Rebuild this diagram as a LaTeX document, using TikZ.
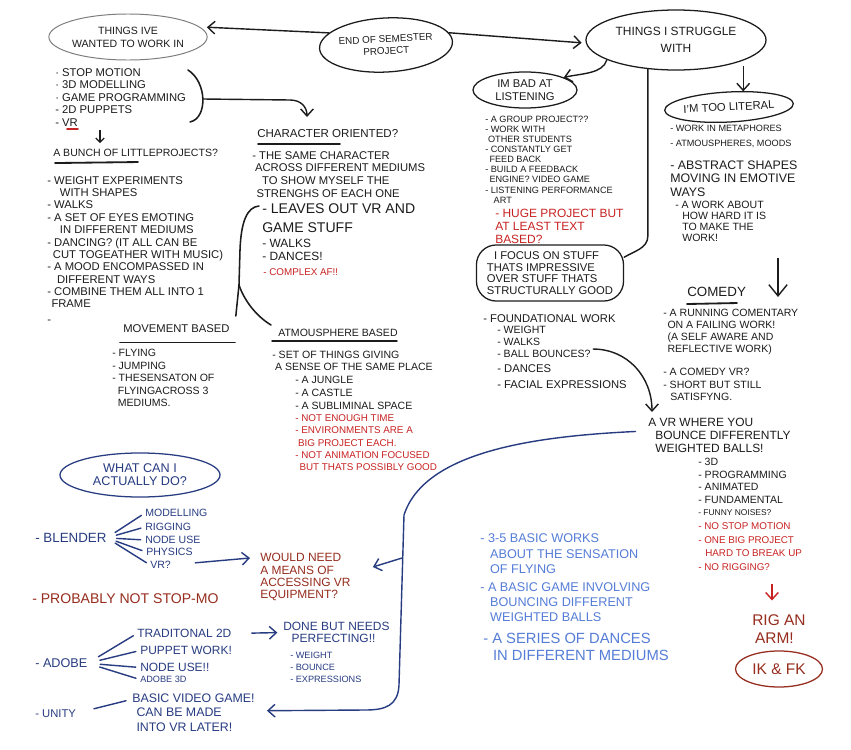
\documentclass[tikz,border=0pt]{standalone}
\usepackage{fontspec}
\setmainfont{Liberation Sans}
\definecolor{inkblack}{RGB}{28,28,28}
\definecolor{inkgray}{RGB}{125,125,125}
\definecolor{inkred}{RGB}{200,35,35}
\definecolor{inkrust}{RGB}{150,45,30}
\definecolor{inknavy}{RGB}{40,60,130}
\definecolor{inksky}{RGB}{85,125,215}
\usetikzlibrary{
  arrows.meta,
  shapes.geometric,
  calc
}
\newcommand{\fs}[2]{\fontsize{#1}{#2}\selectfont}

\begin{document}
\begin{tikzpicture}[
  x=0.025cm, y=-0.025cm,
  bubble/.style={
    draw=inkblack, ellipse, line width=0.9pt, inner sep=0pt,
    align=center, text=inkblack
  },
  note/.style={anchor=north west, align=left, inner sep=0pt, text=inkblack},
  arr/.style={-{Straight Barb[length=5pt,width=9pt]}, line width=1pt, inkblack},
  pen/.style={line width=0.9pt, inkblack, line cap=round},
  barb/.style={-{Straight Barb[length=5pt,width=9pt]}, line width=1pt, inknavy},
  fan/.style={line width=1pt, inknavy, line cap=round, shorten <=7pt, shorten >=3pt},
]
\fill[white] (0,0) rectangle (851,750);
\useasboundingbox (0,0) rectangle (851,750);

% Bubbles along the top
\node[bubble, draw=inkgray, line width=0.7pt, minimum width=3.875cm, minimum height=1.15cm,
  font=\fs{7.5}{9.2}] (want) at (128,37) {THINGS IVE\\WANTED TO WORK IN};
\node[bubble, minimum width=3.3cm, minimum height=1.35cm, font=\fs{7}{8.6}, rotate=3]
  (sem) at (386,45) {END OF SEMESTER\\PROJECT};
\node[bubble, minimum width=4.5cm, minimum height=1.5cm, font=\fs{8.5}{12}]
  (strug) at (676,40) {THINGS I STRUGGLE\\WITH};
\node[bubble, minimum width=2.6cm, minimum height=0.9cm, font=\fs{8}{9.2}]
  (listen) at (525,90) {IM BAD AT\\LISTENING};
\node[bubble, minimum width=3.2cm, minimum height=0.75cm, font=\fs{8}{9}, rotate=3]
  (lit) at (729,107) {I'M TOO LITERAL};
\node[draw=inkblack, line width=0.9pt, rounded corners=14pt, minimum width=3.675cm,
  minimum height=1.4cm, align=left, text=inkblack, font=\fs{8}{8.3}]
  (focus) at (550,273) {\hspace*{5pt}I FOCUS ON STUFF\\THATS IMPRESSIVE\\OVER STUFF THATS\\STRUCTURALLY GOOD};

% Things I've wanted to work in
\node[note, font=\fs{8}{8.9}] (wantlist) at (55,68)
  {· STOP MOTION\\· 3D MODELLING\\· GAME PROGRAMMING\\- 2D PUPPETS};
\node[note, font=\fs{8}{8.9}] (vr) at (55,118) {- VR};
\node[note, font=\fs{7.5}{9}] (bunch) at (53,149) {A BUNCH OF LITTLEPROJECTS?};
\node[note, font=\fs{8}{8.8}] (bunchlist) at (47,176)
  {- WEIGHT EXPERIMENTS\\\hspace*{9pt}WITH SHAPES\\- WALKS\\- A SET OF EYES EMOTING\\
   \hspace*{9pt}IN DIFFERENT MEDIUMS\\- DANCING? (IT ALL CAN BE\\\hspace*{4pt}CUT TOGEATHER WITH MUSIC)\\
   - A MOOD ENCOMPASSED IN\\\hspace*{7pt}DIFFERENT WAYS\\- COMBINE THEM ALL INTO 1\\
   \hspace*{3pt}FRAME\\[2pt]-};

% Character oriented
\node[note, font=\fs{8.2}{9}] (chartitle) at (257,129) {CHARACTER ORIENTED?};
\node[note, font=\fs{8}{9}] (charlist) at (252,151)
  {- THE SAME CHARACTER\\\hspace*{2pt}ACROSS DIFFERENT MEDIUMS\\
   \hspace*{7pt}TO SHOW MYSELF THE\\\hspace*{3pt}STRENGHS OF EACH ONE};
\node[note, font=\fs{10}{13.5}] (leaves) at (262,203) {- LEAVES OUT VR AND\\GAME STUFF};
\node[note, font=\fs{8.5}{9.2}] (charmore) at (262,239) {- WALKS\\- DANCES!};
\node[note, font=\fs{7}{9}, text=inkred] (complex) at (263,268.5) {- COMPLEX AF!!};

% Movement / atmosphere
\node[note, font=\fs{8}{9}] (movtitle) at (123,324) {MOVEMENT BASED};
\node[note, font=\fs{7.5}{8.9}] (movlist) at (112,349)
  {- FLYING\\- JUMPING\\- THESENSATON OF\\\hspace*{4pt}FLYINGACROSS 3\\\hspace*{4pt}MEDIUMS.};
\node[note, font=\fs{7.5}{9}] (atmtitle) at (278,329) {ATMOUSPHERE BASED};
\node[note, font=\fs{7.5}{8.6}] (atmlist) at (272,351)
  {- SET OF THINGS GIVING\\\hspace*{2pt}A SENSE OF THE SAME PLACE};
\node[note, font=\fs{7.5}{9.2}] (atmsub) at (295,376)
  {- A JUNGLE\\- A CASTLE\\- A SUBLIMINAL SPACE};
\node[note, font=\fs{7}{8.7}, text=inkred] (atmred) at (295,414.5)
  {- NOT ENOUGH TIME\\- ENVIRONMENTS ARE A\\\hspace*{2pt}BIG PROJECT EACH.\\
   - NOT ANIMATION FOCUSED\\\hspace*{3pt}BUT THATS POSSIBLY GOOD};

% Listening
\node[note, font=\fs{6.5}{7.2}] (listlist) at (485,115.5)
  {- A GROUP PROJECT??\\- WORK WITH\\\hspace*{2pt}OTHER STUDENTS\\- CONSTANTLY GET\\
   \hspace*{3pt}FEED BACK\\- BUILD A FEEDBACK\\\hspace*{3pt}ENGINE? VIDEO GAME\\
   - LISTENING PERFORMANCE\\\hspace*{6pt}ART};
\node[note, font=\fs{8.5}{9.3}, text=inkred] (huge) at (495,208.5)
  {- HUGE PROJECT BUT\\AT LEAST TEXT\\BASED?};

% Foundational work
\node[note, font=\fs{8}{9}] (fwork) at (483,314) {- FOUNDATIONAL WORK};
\node[note, font=\fs{7.5}{8.5}] (fsub) at (497,326) {- WEIGHT\\- WALKS};
\node[note, font=\fs{7.5}{9}] (ball) at (497,350) {- BALL BOUNCES?};
\node[note, font=\fs{8}{11.4}] (fmore) at (497,364) {- DANCES\\- FACIAL EXPRESSIONS};

% Too literal
\node[note, font=\fs{6.5}{10.7}] (litlist) at (670,125)
  {- WORK IN METAPHORES\\- ATMOUSPHERES, MOODS};
\node[note, font=\fs{8.8}{9.6}] (abstract) at (670,160.5)
  {- ABSTRACT SHAPES\\MOVING IN EMOTIVE\\WAYS};
\node[note, font=\fs{7.5}{7.9}] (workabout) at (675,201)
  {- A WORK ABOUT\\\hspace*{5pt}HOW HARD IT IS\\\hspace*{5pt}TO MAKE THE\\\hspace*{5pt}WORK!};

% Comedy
\node[note, font=\fs{9.5}{10}] (comedy) at (687,287) {COMEDY};
\node[note, font=\fs{7.5}{8.5}] (comlist) at (663,309)
  {- A RUNNING COMENTARY\\\hspace*{3pt}ON A FAILING WORK!\\\hspace*{3pt}(A SELF AWARE AND\\
   \hspace*{3pt}REFLECTIVE WORK)};
\node[note, font=\fs{7.5}{8.9}] (comvr) at (663,368)
  {- A COMEDY VR?\\- SHORT BUT STILL\\\hspace*{5pt}SATISFYNG.};

% VR idea
\node[note, font=\fs{8.5}{9.2}] (vrtitle) at (648,418)
  {A VR WHERE YOU\\\hspace*{5pt}BOUNCE DIFFERENTLY\\\hspace*{5pt}WEIGHTED BALLS!};
\node[note, font=\fs{7.5}{8.9}] (vrlist) at (698,458)
  {- 3D\\- PROGRAMMING\\- ANIMATED\\- FUNDAMENTAL\\{\fs{6}{8.9}- FUNNY NOISES?}};
\node[note, font=\fs{7}{9.7}, text=inkred] (vrred) at (698,522.5)
  {- NO STOP MOTION\\- ONE BIG PROJECT\\\hspace*{5pt}HARD TO BREAK UP\\- NO RIGGING?};
\node[note, font=\fs{11}{12.8}, text=inkrust] (rig) at (752,614.5) {RIG AN\\\hspace*{2pt}ARM!};
\node[bubble, draw=inkrust, text=inkrust, minimum width=2.175cm, minimum height=0.9cm,
  font=\fs{11}{12}] (ikfk) at (779,669) {IK \& FK};

% What can I actually do
\node[bubble, draw=inknavy, text=inknavy, minimum width=4cm, minimum height=1.1cm,
  font=\fs{9}{9.3}] (actual) at (140,475) {WHAT CAN I\\ACTUALLY DO?};
\node[note, text=inknavy, font=\fs{9.5}{10}] (blender) at (35,533) {- BLENDER};
\node[note, text=inknavy, font=\fs{7.5}{9}] (bmod) at (145,509) {MODELLING};
\node[note, text=inknavy, font=\fs{7.5}{9}] (brig) at (145,523) {RIGGING};
\node[note, text=inknavy, font=\fs{7.5}{9}] (bnode) at (145,536) {NODE USE};
\node[note, text=inknavy, font=\fs{7.5}{9}] (bphys) at (146,548) {PHYSICS};
\node[note, text=inknavy, font=\fs{7.5}{9}] (bvr) at (150,561) {VR?};
\node[note, text=inkrust, font=\fs{8.5}{8.8}] (need) at (260,553)
  {WOULD NEED\\A MEANS OF\\ACCESSING VR\\EQUIPMENT?};
\node[note, text=inkrust, font=\fs{10}{10}] (probably) at (32,593) {- PROBABLY NOT STOP-MO};

\node[note, text=inknavy, font=\fs{9}{10}] (adobe) at (35,658.5) {- ADOBE};
\node[note, text=inknavy, font=\fs{8.5}{9}] (trad) at (137,629) {TRADITONAL 2D};
\node[note, text=inknavy, font=\fs{8.5}{9}] (puppet) at (140,646) {PUPPET WORK!};
\node[note, text=inknavy, font=\fs{8.5}{9}] (anode) at (140,663) {NODE USE!!};
\node[note, text=inknavy, font=\fs{6.5}{8}] (adobe3d) at (140,676) {ADOBE 3D};
\node[note, text=inknavy, font=\fs{8.5}{8.5}] (done) at (283,622)
  {DONE BUT NEEDS\\\hspace*{6pt}PERFECTING!!};
\node[note, text=inknavy, font=\fs{6.5}{8.5}] (donelist) at (290,651.5)
  {- WEIGHT\\- BOUNCE\\- EXPRESSIONS};
\node[note, text=inknavy, font=\fs{8}{9}] (unity) at (35,709) {- UNITY};
\node[note, text=inknavy, font=\fs{8.8}{10}] (vgame) at (132,694)
  {BASIC VIDEO GAME!\\\hspace*{3pt}CAN BE MADE\\\hspace*{3pt}INTO VR LATER!};

% Light blue plan
\node[note, text=inksky, font=\fs{9}{11}] (sky1) at (480,533.5)
  {- 3-5 BASIC WORKS\\\hspace*{7pt}ABOUT THE SENSATION\\\hspace*{7pt}OF FLYING};
\node[note, text=inksky, font=\fs{9}{10.7}] (sky2) at (480,582.5)
  {- A BASIC GAME INVOLVING\\\hspace*{7pt}BOUNCING DIFFERENT\\\hspace*{7pt}WEIGHTED BALLS};
\node[note, text=inksky, font=\fs{10.5}{12}] (sky3) at (483,632.75)
  {- A SERIES OF DANCES\\\hspace*{7pt}IN DIFFERENT MEDIUMS};

% Underlines
\draw[pen, line width=1.3pt] ($(bunch.south west)+(2,6)$) -- ++(83,-1);
\draw[pen, line width=1.3pt] ($(chartitle.south west)+(1,6)$) -- ++(82,0);
\draw[pen, line width=1.3pt] ($(movtitle.south west)+(-3,10)$) -- ++(115,0);
\draw[pen, line width=1pt] ($(atmtitle.south west)+(-6,4)$) -- ++(125,0);
\draw[pen, line width=1.3pt] ($(comedy.south west)+(0,7)$) -- ++(50,-1);
\draw[pen, inkred, line width=1.3pt] ($(vr.south west)+(12,3)$) -- ++(11,0);

% Black connectors
\draw[arr, shorten >=5pt] (sem.165) -- (want.8);
\draw[arr, shorten >=3pt] (sem.8) -- (strug.182);
\draw[arr] (strug.196) .. controls +(-4,14) and +(18,-4) .. (listen.18);
\draw[arr, shorten <=4pt] (strug.-17) -- (strug.-17 |- lit.north);
\draw[pen, line width=1pt] (strug.226) -- ++(0,167) .. controls +(0,12) and +(10,-6) .. (focus.12);

\draw[pen, line width=1.1pt] (188,70) .. controls (207,82) and (208,118) .. (190,122);
\coordinate (brace) at (203,99);
\draw[arr] (brace) -- (290,100) .. controls (301,100) and (307,107)
  .. ($(chartitle.north west)+(50,-12)$);
\coordinate (vrdown) at (100,130);
\draw[arr, -{Straight Barb[length=3pt,width=6pt]}, line width=0.8pt]
  (vrdown) -- ($(vrdown |- bunch.north)+(0,-6)$);

\coordinate (fork) at (239,285);
\draw[pen, line width=1.1pt] ($(leaves.north west)+(-3,3)$) .. controls (247,207) and (241,222)
  .. (240,250) -- (fork) -- ($(movtitle.north east)+(6,-8)$);
\draw[pen, line width=1.1pt] (fork) .. controls (244,300) and (256,316)
  .. ($(atmtitle.north west)+(-7,-4)$);

\draw[arr] ($(ball.east)+(2,-5)$) .. controls +(35,0) and +(0,-35)
  .. ($(vrtitle.north west)+(4,-6)$);
\coordinate (comdown) at (778,258);
\draw[arr, -{Straight Barb[length=8pt,width=13pt]}] (comdown) -- (comdown |- comedy.south);
\coordinate (rigdown) at (772,584);
\draw[arr, inkred] (rigdown) -- ($(rigdown |- rig.north)+(0,-14)$);

% Blue connectors
\foreach \item in {bmod,brig,bnode,bphys,bvr}
  \draw[fan] (blender.east) -- (\item.west);
\foreach \item in {trad,puppet,anode,adobe3d}
  \draw[fan, shorten <=9pt] (adobe.east) -- (\item.west);
\draw[barb, shorten <=17pt] (bvr.east) -- ($(need.north west)+(-10,5)$);
\draw[barb, shorten <=14pt, shorten >=4pt] (trad.east) -- (done.west);
\draw[fan, shorten <=13pt, shorten >=0pt] (unity.east) -- ($(vgame.west)+(-6,-12)$);

\draw[barb] ($(vrtitle.west)+(-12,-4)$) .. controls (540,436) and (425,450) .. (404,515)
  -- (399,685) .. controls (398,706) and (385,710) .. (365,710)
  -- ($(vgame.east)+(12,-2)$);
\coordinate (needfork) at (402,558);
\draw[barb] (needfork) -- ($(need.north east)+(22,14)$);

\end{tikzpicture}
\end{document}
